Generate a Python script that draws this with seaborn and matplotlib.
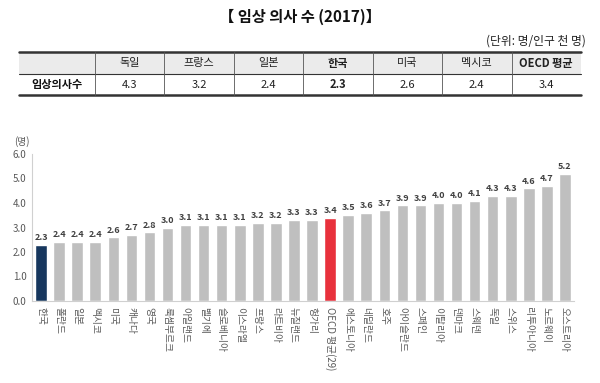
import matplotlib
matplotlib.use("Agg")
import matplotlib.pyplot as plt
import seaborn as sns
import numpy as np

# table data (top)
table_cols = ['독일', '프랑스', '일본', '한국', '미국', '멕시코', 'OECD 평균']
table_vals = [4.3, 3.2, 2.4, 2.3, 2.6, 2.4, 3.4]
table_row_label = '임상의사수'

# bar chart data
countries = ['한국', '폴란드', '일본', '멕시코', '미국', '캐나다', '영국', '룩셈부르크',
             '아일랜드', '벨기에', '슬로베니아', '이스라엘', '프랑스', '라트비아', '뉴질랜드',
             '헝가리', 'OECD 평균(29)', '에스토니아', '네덜란드', '호주', '아이슬란드', '스페인',
             '이탈리아', '덴마크', '스웨덴', '독일', '스위스', '리투아니아', '노르웨이', '오스트리아']
doctors = [2.3, 2.4, 2.4, 2.4, 2.6, 2.7, 2.8, 3.0, 3.1, 3.1, 3.1, 3.1, 3.2, 3.2, 3.3,
           3.3, 3.4, 3.5, 3.6, 3.7, 3.9, 3.9, 4.0, 4.0, 4.1, 4.3, 4.3, 4.6, 4.7, 5.2]

sns.set_theme(style='white')
plt.rcParams['font.family'] = ['Noto Sans CJK KR', 'DejaVu Sans']

fig = plt.figure(figsize=(6, 3.83), dpi=100)

# ---- header + table drawn in pixel coordinates
tab = fig.add_axes([0, 0, 1, 1], zorder=0)
tab.set_xlim(0, 600)
tab.set_ylim(383, 0)
tab.axis('off')

tab.text(300, 17, '【 임상 의사 수 (2017)】', ha='center', va='center',
         fontsize=11, fontweight='bold', color='#111111')
tab.text(586, 41, '(단위: 명/인구 천 명)', ha='right', va='center',
         fontsize=8.5, color='#222222')

left, first_w, right = 19, 95, 581
top, mid, bot = 52, 74, 95
col_w = (right - first_w) / len(table_cols)
tab.add_patch(plt.Rectangle((left, top), right - left, mid - top,
                            facecolor='#ebebeb', edgecolor='none'))
tab.plot([left, right], [top, top], color='#333333', lw=1.8)
tab.plot([left, right], [mid, mid], color='#333333', lw=0.8)
tab.plot([left, right], [bot, bot], color='#333333', lw=1.8)
for i in range(len(table_cols)):
    x0 = first_w + i * col_w
    tab.plot([x0, x0], [top, bot], color='#555555', lw=0.6)
tab.text((left + first_w) / 2, (mid + bot) / 2, table_row_label, ha='center',
         va='center', fontsize=8, fontweight='bold', color='#111111')
for i, (c, v) in enumerate(zip(table_cols, table_vals)):
    xc = first_w + (i + 0.5) * col_w
    bold_head = c in ('한국', 'OECD 평균')
    bold_val = c == '한국'
    tab.text(xc, (top + mid) / 2, c, ha='center', va='center', fontsize=8,
             fontweight='bold' if bold_head else 'normal', color='#222222')
    tab.text(xc, (mid + bot) / 2, f'{v:.1f}', ha='center', va='center', fontsize=8,
             fontweight='bold' if bold_val else 'normal', color='#222222')

# ---- bar chart
ax = fig.add_axes([32 / 600, 1 - 301 / 383, (574 - 32) / 600, (301 - 154) / 383], zorder=1)
ax.patch.set_alpha(0)
colors = ['#17375e' if c == '한국' else '#e8313c' if c.startswith('OECD') else '#bfbfbf'
          for c in countries]
sns.barplot(x=countries, y=doctors, hue=countries, palette=colors, legend=False,
            width=0.64, saturation=1, ax=ax)
for cont in ax.containers:
    ax.bar_label(cont, fmt='%.1f', padding=2, fontsize=6.5, fontweight='bold',
                 color='#404040')

ax.set_xlim(-0.5, len(countries) - 0.5)
ax.set_ylim(0, 6)
ax.set_yticks(np.arange(0, 7, 1))
ax.set_yticklabels([f'{t:.1f}' for t in np.arange(0, 7, 1)])
ax.tick_params(axis='y', length=0, pad=4, labelsize=7, labelcolor='#595959')
ax.tick_params(axis='x', length=0, pad=4, labelsize=7, labelcolor='#595959',
               labelrotation=270)
for lab in ax.get_xticklabels():
    lab.set_va('top')
    lab.set_ha('center')
for s in ['top', 'right']:
    ax.spines[s].set_visible(False)
for s in ['left', 'bottom']:
    ax.spines[s].set_color('#d0d0d0')
    ax.spines[s].set_linewidth(0.8)
ax.grid(False)
fig.text(22 / 600, 1 - 142 / 383, '(명)', ha='center', va='center', fontsize=7,
         color='#595959')

fig.savefig('out.png', dpi=100)
